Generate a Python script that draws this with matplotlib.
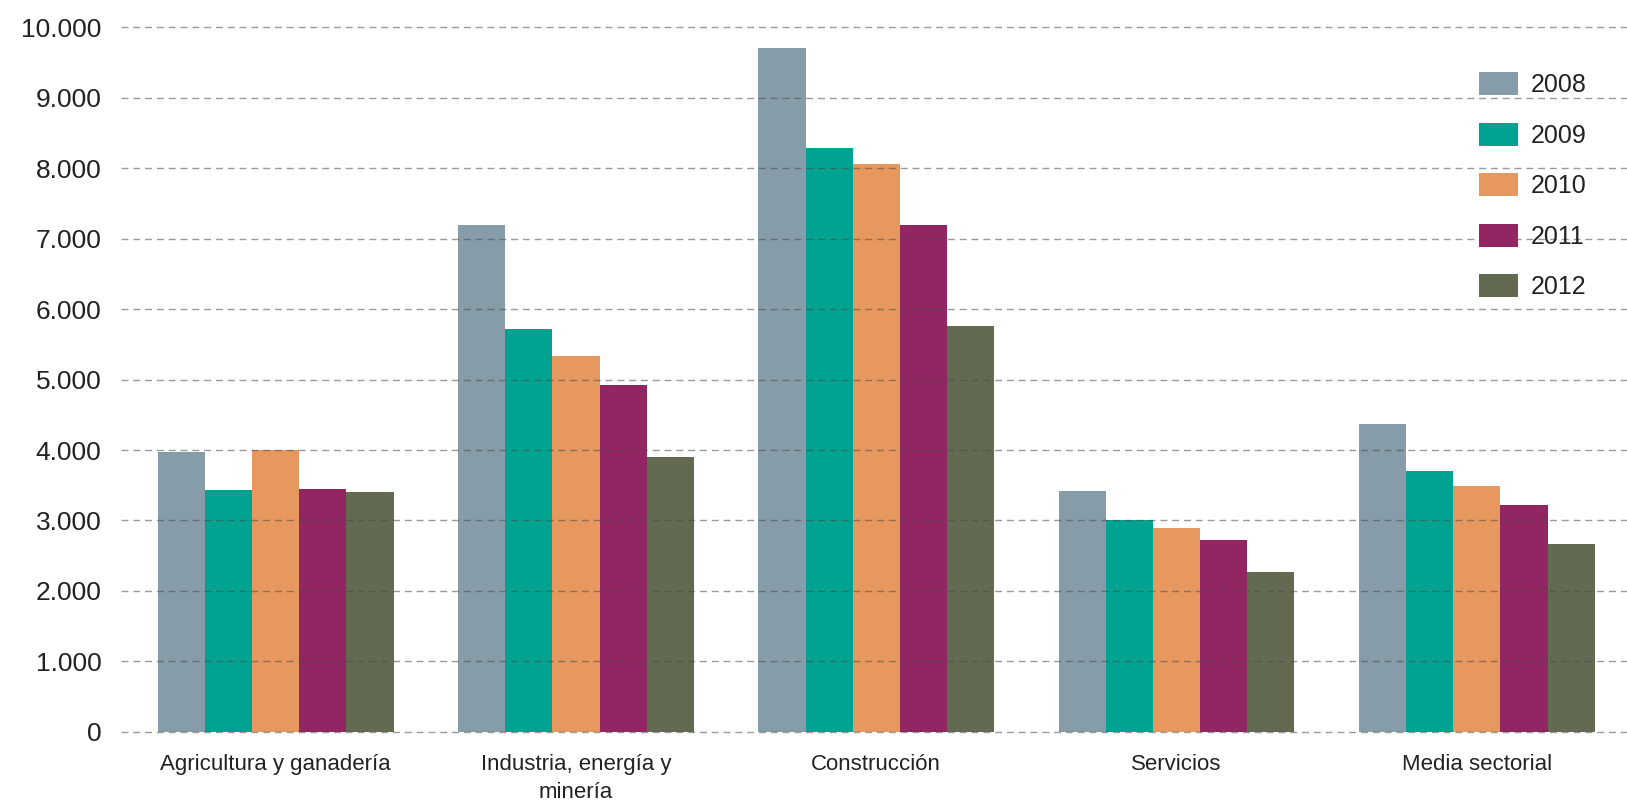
import numpy as np
import matplotlib
matplotlib.use("Agg")
import matplotlib.pyplot as plt
from matplotlib.ticker import FuncFormatter, MultipleLocator

plt.rcParams["font.family"] = ["Liberation Sans", "DejaVu Sans"]

sectores = ["Agricultura y ganadería", "Industria, energía y\nminería",
            "Construcción", "Servicios", "Media sectorial"]
anios = ["2008", "2009", "2010", "2011", "2012"]
v2008 = [3970, 7190, 9700, 3420, 4370]
v2009 = [3430, 5710, 8290, 3010, 3700]
v2010 = [4000, 5330, 8060, 2890, 3490]
v2011 = [3440, 4920, 7190, 2730, 3220]
v2012 = [3400, 3900, 5760, 2270, 2660]
colores = ["#869ca8", "#00a391", "#e6985e", "#922663", "#626b51"]

series = [v2008, v2009, v2010, v2011, v2012]

fig = plt.figure(figsize=(16.27, 8.02), dpi=100)
ax = fig.add_axes([0.0744, 0.0873, 0.9256, 0.879])

x = np.arange(len(sectores))
w = 0.157
for i, (vals, col, lab) in enumerate(zip(series, colores, anios)):
    ax.bar(x + (i - 2) * w, vals, w, color=col, label=lab, zorder=1)

ax.set_ylim(0, 10000)
ax.set_xlim(-0.515, 4.5)
ax.yaxis.set_major_locator(MultipleLocator(1000))
ax.yaxis.set_major_formatter(FuncFormatter(lambda v, p: f"{int(v):,}".replace(",", ".")))
ax.grid(axis="y", color="#4a4a4a", alpha=0.55, linestyle=(0, (5, 3.5)), linewidth=1.0, zorder=3)
for gl in ax.get_ygridlines():
    gl.set_clip_on(False)
ax.set_axisbelow(False)
for s in ax.spines.values():
    s.set_visible(False)

ax.set_xticks(x)
ax.set_xticklabels(sectores, family=["Liberation Sans Narrow", "Liberation Sans", "DejaVu Sans"],
                   fontsize=16, color="#222222", va="top", linespacing=1.45)
ax.tick_params(axis="x", length=0, pad=16)
ax.tick_params(axis="y", length=0, pad=14, labelsize=19, labelcolor="#222222")

leg = ax.legend(loc="upper left", bbox_to_anchor=(0.9017, 0.936), frameon=False,
                fontsize=18, handlelength=1.56, handleheight=1.04,
                handletextpad=0.5, labelspacing=1.02, borderaxespad=0, borderpad=0)
for t in leg.get_texts():
    t.set_color("#222222")

fig.savefig("out.png", dpi=100)
